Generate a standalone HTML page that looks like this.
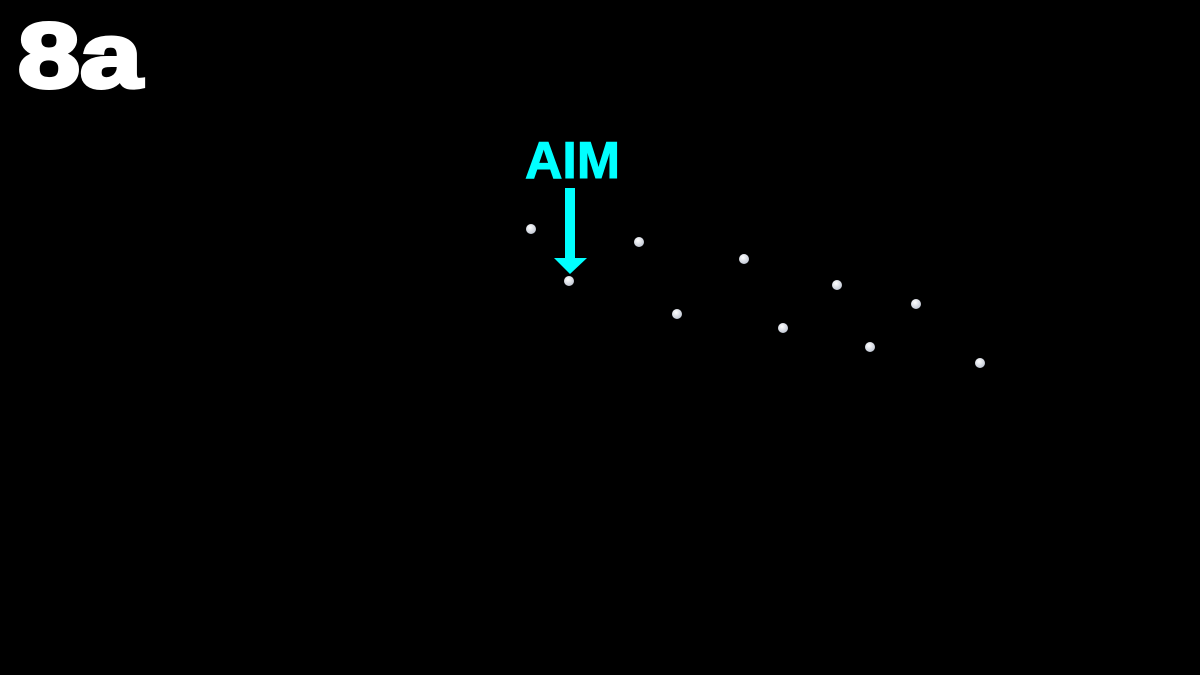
<!DOCTYPE html>
<html><head><meta charset="utf-8"><style>
html,body{margin:0;padding:0;background:#000;width:1200px;height:675px;overflow:hidden}
</style></head><body>
<svg width="1200" height="675" xmlns="http://www.w3.org/2000/svg">
<defs><radialGradient id="g" cx="40%" cy="35%" r="65%"><stop offset="0" stop-color="#ffffff"/><stop offset="1" stop-color="#c4cad6"/></radialGradient></defs>
<rect width="1200" height="675" fill="#000"/>
<text x="18" y="87" font-family="Liberation Sans, sans-serif" font-weight="bold" font-size="92" fill="#fff" stroke="#fff" stroke-width="4" textLength="124" lengthAdjust="spacingAndGlyphs">8a</text>
<text x="525" y="178" font-family="Liberation Sans, sans-serif" font-weight="bold" font-size="52" fill="#00ffff" stroke="#00ffff" stroke-width="1" textLength="95" lengthAdjust="spacingAndGlyphs">AIM</text>
<rect x="565" y="188" width="10" height="72" fill="#00ffff"/>
<polygon points="554,258 587,258 570,274" fill="#00ffff"/>
<g fill="url(#g)">
<circle cx="531" cy="229" r="5"/>
<circle cx="569" cy="281" r="5"/>
<circle cx="639" cy="242" r="5"/>
<circle cx="677" cy="314" r="5"/>
<circle cx="744" cy="259" r="5"/>
<circle cx="783" cy="328" r="5"/>
<circle cx="837" cy="285" r="5"/>
<circle cx="870" cy="347" r="5"/>
<circle cx="916" cy="304" r="5"/>
<circle cx="980" cy="363" r="5"/>
</g>
</svg>
</body></html>
